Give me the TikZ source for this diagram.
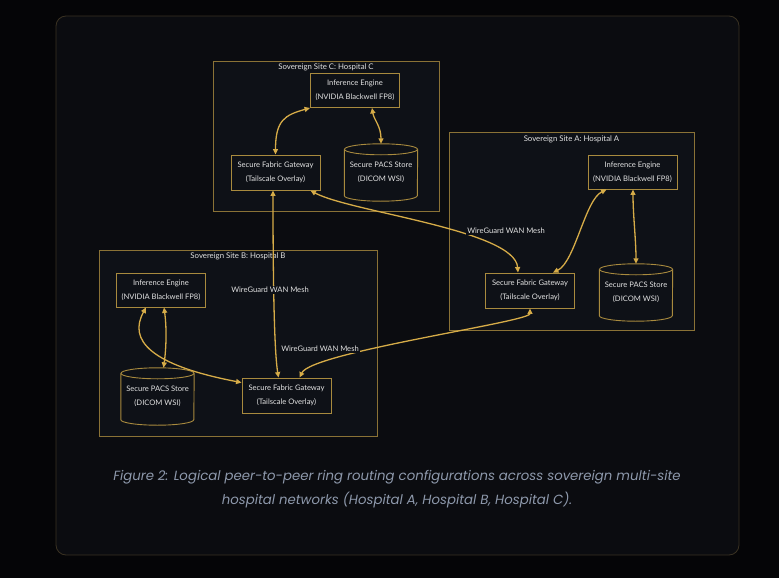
\documentclass[tikz,border=0pt]{standalone}
\usepackage{fontspec}
\setmainfont{Lato}
\newfontfamily\capfont{Poppins}
\usetikzlibrary{arrows.meta,calc}
\definecolor{outerbg}{HTML}{050507}
\definecolor{panelbg}{HTML}{0B0C10}
\definecolor{panelline}{HTML}{3A3222}
\definecolor{clusterbg}{HTML}{0E1117}
\definecolor{clusterline}{HTML}{8A7236}
\definecolor{nodeline}{HTML}{A88A3E}
\definecolor{linkcol}{HTML}{D6AC48}
\definecolor{txt}{HTML}{E2E2E2}
\definecolor{captxt}{HTML}{8E99AC}
\newcommand\dbnode[4]{%
  \node[dbtext] (#1) at (#2,#3) {#4};
  \draw[dbline] ($(#1.north west)+(0,5.5)$) -- ($(#1.south west)+(0,-5.5)$)
     arc[start angle=180,end angle=0,x radius=36.5,y radius=5.5] -- ($(#1.north east)+(0,5.5)$);
  \draw[dbline] ($(#1.north)+(0,5.5)$) ellipse[x radius=36.5,y radius=5.5];
}
\begin{document}
\begin{tikzpicture}[x=1pt,y=-1pt,
  panel/.style={draw=panelline, fill=panelbg, line width=0.8pt, rounded corners=10pt, inner sep=0pt},
  cluster/.style={draw=clusterline, fill=clusterbg, line width=0.9pt, inner sep=0pt},
  ctitle/.style={text=txt, font=\fontsize{7.8}{9}\selectfont, inner sep=0pt},
  box/.style={draw=nodeline, fill=clusterbg, line width=0.9pt, text=txt, align=center,
     font=\fontsize{7.6}{13.7}\selectfont, inner sep=0pt, minimum width=89pt, minimum height=34pt},
  dbtext/.style={text=txt, align=center, font=\fontsize{7.6}{13.7}\selectfont, inner sep=0pt,
     minimum width=73pt, minimum height=57pt},
  dbline/.style={draw=nodeline, line width=0.9pt},
  link/.style={draw=linkcol, line width=1.3pt,
     {Triangle[width=5pt,length=5.5pt]}-{Triangle[width=5pt,length=5.5pt]}},
  elabel/.style={fill=clusterbg, text=txt, font=\fontsize{7.6}{9}\selectfont, inner sep=1.5pt},
  caption/.style={text=captxt, align=center, font=\capfont\fontsize{13.3}{24}\selectfont\itshape, inner sep=0pt}
]
\fill[outerbg] (0,0) rectangle (779,578);
\useasboundingbox (0,0) rectangle (779,578);
\node[panel, minimum width=683pt, minimum height=539pt] (panel) at (397.5,285.5) {};

% clusters
\node[cluster, minimum width=226pt, minimum height=150pt] (clC) at (326,136) {};
\node[ctitle] (tC) at ($(clC.north)+(0,7)$) {Sovereign Site C: Hospital C};
\node[cluster, minimum width=245pt, minimum height=198pt] (clA) at (571.5,231) {};
\node[ctitle] (tA) at ($(clA.north)+(0,7.5)$) {Sovereign Site A: Hospital A};
\node[cluster, minimum width=278pt, minimum height=186pt] (clB) at (238,343) {};
\node[ctitle] (tB) at ($(clB.north)+(0,7)$) {Sovereign Site B: Hospital B};

% Site C
\node[box] (cinf) at (355,90.5) {Inference Engine\\(NVIDIA Blackwell FP8)};
\node[box, minimum height=35pt] (cgw) at (275.5,172.5) {Secure Fabric Gateway\\(Tailscale Overlay)};
\dbnode{cpacs}{381}{172.5}{Secure PACS Store\\(DICOM WSI)}
% Site A
\node[box] (ainf) at (632.5,172) {Inference Engine\\(NVIDIA Blackwell FP8)};
\node[box, minimum height=35pt] (agw) at (530,290.5) {Secure Fabric Gateway\\(Tailscale Overlay)};
\dbnode{apacs}{636}{292.5}{Secure PACS Store\\(DICOM WSI)}
% Site B
\node[box] (binf) at (161,290) {Inference Engine\\(NVIDIA Blackwell FP8)};
\node[box, minimum height=35pt] (bgw) at (286.5,395.5) {Secure Fabric Gateway\\(Tailscale Overlay)};
\dbnode{bpacs}{157.5}{396.5}{Secure PACS Store\\(DICOM WSI)}

% intra-site links
\draw[link] (cgw.north) .. controls (275.5,120) and (285,115) .. (cinf.south west);
\draw[link] ($(cinf.south)+(17,0)$) .. controls (374,120) and (381,126) .. (cpacs.north);
\draw[link] ($(ainf.south west)+(19,0)$) .. controls (585,200) and (575,262) .. ($(agw.north)+(23,0)$);
\draw[link] ($(ainf.south)+(0.5,0)$) .. controls (633,215) and (636,240) .. (apacs.north);
\draw[link] ($(binf.south)+(3,0)$) .. controls (167,330) and (166,350) .. ($(bpacs.north)+(6,0)$);
\draw[link] ($(binf.south west)+(30,0)$) .. controls (128,340) and (150,365) .. ($(bgw.north west)+(0,5)$);

% WAN links
\draw[link] ($(cgw.south east)+(-10,0)$) .. controls (350,212) and (515,230) .. ($(agw.north)+(-12,0)$);
\draw[link] ($(cgw.south)+(-2.5,0)$) .. controls (273,330) and (276,362) .. ($(bgw.north)+(-8,0)$);
\draw[link] ($(bgw.north)+(13,0)$) .. controls (312,352) and (530,322) .. (agw.south);

\node[elabel] (l1) at (506,231) {WireGuard WAN Mesh};
\node[elabel] (l2) at (270,290) {WireGuard WAN Mesh};
\node[elabel] (l3) at (320,349) {WireGuard WAN Mesh};

\node[caption] (cap) at (397,489.5) {Figure 2: Logical peer-to-peer ring routing configurations across sovereign multi-site\\hospital networks (Hospital A, Hospital B, Hospital C).};
\end{tikzpicture}
\end{document}
